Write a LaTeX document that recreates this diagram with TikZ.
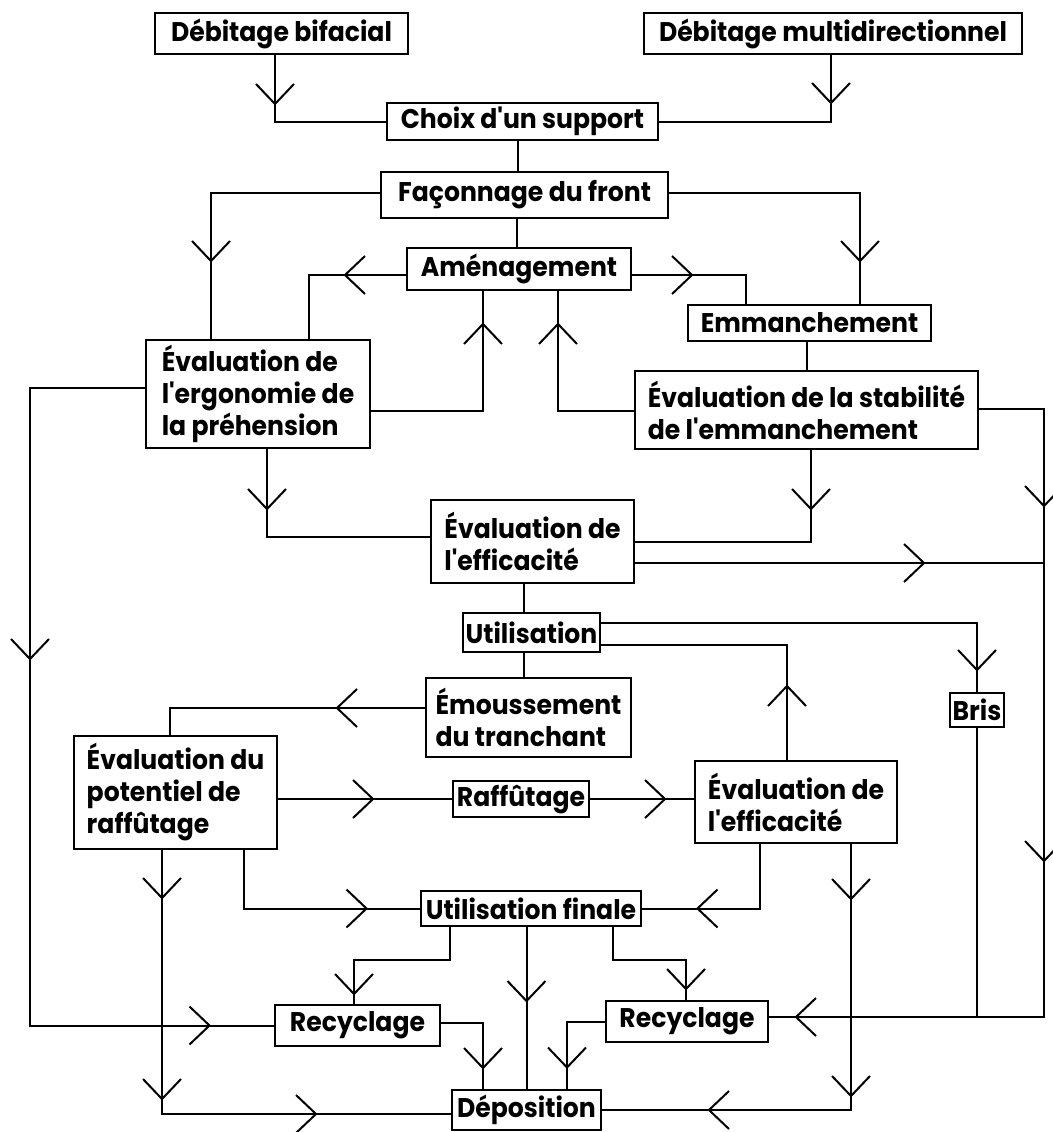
\documentclass[tikz,border=0pt]{standalone}
\usepackage{fontspec}
\newfontfamily\diafont{Poppins}[FakeStretch=0.93]
\usetikzlibrary{decorations.markings}
\tikzset{
  box/.style={draw, line width=2pt, inner xsep=2pt, inner ysep=3pt, align=left,
    font=\diafont\bfseries\fontsize{27}{32}\selectfont},
  conn/.style={line width=2pt},
  tipat/.style={postaction={decorate,decoration={markings,
    mark=at position #1 with {\draw[line width=2pt,line join=miter] (-20pt,-19pt) -- (0pt,0pt) -- (-20pt,19pt);}}}},
}
\begin{document}
\begin{tikzpicture}[x=1pt,y=-1pt]
\useasboundingbox (0,0) rectangle (1052,1132);
% nodes
\node[box,minimum width=253pt,minimum height=41pt] (bif) at (281.5,33.5) {Débitage bifacial};
\node[box,minimum width=378pt,minimum height=41pt] (multi) at (833,33.5) {Débitage multidirectionnel};
\node[box,minimum width=271pt,minimum height=37pt] (choix) at (522.5,121.5) {Choix d'un support};
\node[box,minimum width=287pt,minimum height=46pt] (fac) at (524.5,195) {Façonnage du front};
\node[box,minimum width=224pt,minimum height=42pt] (amen) at (519,269) {Aménagement};
\node[box,minimum width=243pt,minimum height=36pt] (emm) at (809.5,323) {Emmanchement};
\node[box,minimum width=224pt,minimum height=108pt] (ergo) at (258,394) {Évaluation de\\l'ergonomie de\\la préhension};
\node[box,minimum width=343pt,minimum height=78pt] (stab) at (806.5,410) {Évaluation de la stabilité\\de l'emmanchement};
\node[box,minimum width=203pt,minimum height=83pt] (eff1) at (532.5,541.5) {Évaluation de\\l'efficacité};
\node[box,minimum width=137pt,minimum height=39pt] (util) at (531.5,632.5) {Utilisation};
\node[box,minimum width=54pt,minimum height=34pt] (bris) at (977,710) {Bris};
\node[box,minimum width=205pt,minimum height=79pt] (emou) at (528.5,717.5) {Émoussement\\du tranchant};
\node[box,minimum width=203pt,minimum height=113pt] (pot) at (175.5,792.5) {Évaluation du\\potentiel de\\raffûtage};
\node[box,minimum width=136pt,minimum height=36pt] (raff) at (521,799) {Raffûtage};
\node[box,minimum width=202pt,minimum height=82pt] (eff2) at (796,802) {Évaluation de\\l'efficacité};
\node[box,minimum width=220pt,minimum height=35pt] (uf) at (531,908.5) {Utilisation finale};
\node[box,minimum width=165pt,minimum height=41pt] (rec1) at (357.5,1025.5) {Recyclage};
\node[box,minimum width=162pt,minimum height=41pt] (rec2) at (687,1021.5) {Recyclage};
\node[box,minimum width=149pt,minimum height=40pt] (dep) at (526.5,1110) {Déposition};
% helper coordinates
\coordinate (R) at (1044,409);
\coordinate (L) at (30,388);
\coordinate (rrow) at ([yshift=4.5pt]rec2.east);
\coordinate (uc) at ([xshift=-8pt]util.north);
\coordinate (us) at ([xshift=-8pt]util.south);
% connectors
\draw[conn,tipat=49pt] ([xshift=-6.5pt]bif.south) |- (choix.west);
\draw[conn,tipat=48pt] ([xshift=-2pt]multi.south) |- (choix.east);
\draw[conn] ([xshift=-5pt]choix.south) -- ([xshift=-5pt]choix.south |- fac.north);
\draw[conn,tipat=237pt] ([yshift=2pt]fac.west) -| ([xshift=-47pt]ergo.north);
\draw[conn,tipat=259pt] ([yshift=2pt]fac.east) -| ([xshift=50.5pt]emm.north);
\draw[conn] ([xshift=-2pt]amen.north |- fac.south) -- ([xshift=-2pt]amen.north);
\draw[conn,tipat=61pt] ([yshift=-6pt]amen.west) -| ([xshift=51pt]ergo.north);
\draw[conn,tipat=60pt] ([yshift=-6pt]amen.east) -| ([xshift=-63.5pt]emm.north);
\draw[conn,tipat=199pt] ([yshift=-17pt]ergo.east) -| ([xshift=-36pt]amen.south);
\draw[conn,tipat=163pt] ([yshift=-1pt]stab.west) -| ([xshift=39pt]amen.south);
\draw[conn] ([xshift=-2.5pt]emm.south) -- ([xshift=-2.5pt]emm.south |- stab.north);
\draw[conn,tipat=60pt] ([xshift=9pt]ergo.south) |- ([yshift=4.5pt]eff1.west);
\draw[conn,tipat=59pt] ([xshift=4.5pt]stab.south) |- (eff1.east);
\draw[conn,tipat=289pt] ([yshift=-21.5pt]eff1.east) -- ([yshift=-21.5pt]eff1.east -| R);
\draw[conn,tipat=162pt,tipat=517pt,tipat=921pt] ([yshift=1pt]stab.east) -| (rrow -| R) -- (rrow);
\draw[conn] (uc |- eff1.south) -- (uc);
\draw[conn] (us) -- (us |- emou.north);
\draw[conn,tipat=423pt] ([yshift=9.5pt]util.east) -| (bris.north);
\draw[conn] (bris.south) -- (bris.south |- rrow);
\draw[conn,tipat=74pt] ([xshift=-9pt]eff2.north) |- ([yshift=-12.5pt]util.east);
\draw[conn,tipat=88pt] ([yshift=9.5pt]emou.west) -| ([xshift=-5.5pt]pot.north);
\draw[conn,tipat=95pt] (raff.west -| pot.east) -- (raff.west);
\draw[conn,tipat=75pt] (raff.east) -- (raff.east -| eff2.west);
\draw[conn,tipat=48pt,tipat=249pt,tipat=418pt] ([xshift=-13.5pt]pot.south) |- ([yshift=-4pt]dep.west);
\draw[conn,tipat=181pt] ([xshift=68.5pt]pot.south) |- (uf.west);
\draw[conn,tipat=127pt] ([xshift=-36pt]eff2.south) |- (uf.east);
\draw[conn,tipat=55pt,tipat=252pt,tipat=408pt] ([xshift=55pt]eff2.south) |- (dep.east);
\draw[conn,tipat=163pt] ([xshift=-81pt]uf.south) -- ++(0,33) -| ([xshift=-3.5pt]rec1.north);
\draw[conn,tipat=74pt] (dep.north |- uf.south) -- (dep.north);
\draw[conn,tipat=135pt] ([xshift=82pt]uf.south) -- ++(0,33) -| ([xshift=-1pt]rec2.north);
\draw[conn,tipat=87pt] ([yshift=2.5pt]rec1.east) -| ([xshift=-43.5pt]dep.north);
\draw[conn,tipat=84pt] (rec2.west) -| ([xshift=40.5pt]dep.north);
\draw[conn,tipat=386pt,tipat=932pt] ([yshift=6pt]ergo.west) -| (L |- rec1.west) -- (rec1.west);
\end{tikzpicture}
\end{document}
